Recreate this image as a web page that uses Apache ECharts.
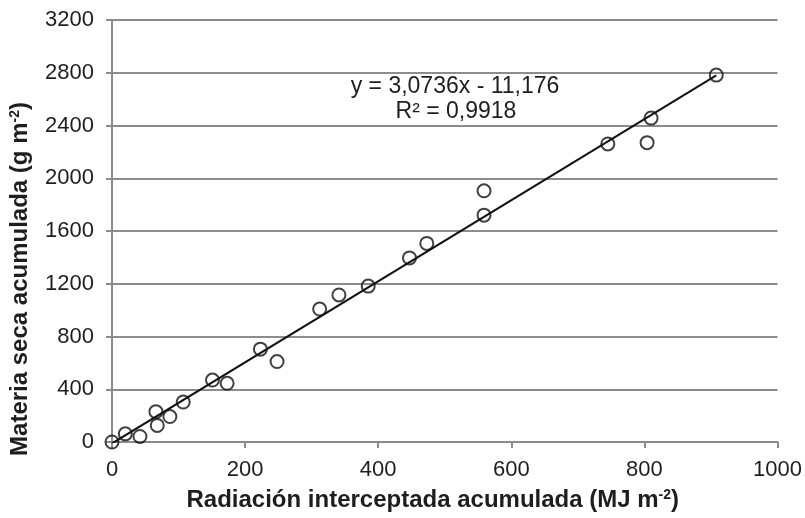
<!DOCTYPE html>
<html>
<head>
<meta charset="utf-8">
<script src="https://cdn.jsdelivr.net/npm/echarts@6/dist/echarts.min.js"></script>
<style>
  html, body { margin: 0; padding: 0; background: #fff; }
  #chart { width: 805px; height: 518px; }
</style>
</head>
<body>
<div id="chart"></div>
<script>
// Accumulated intercepted radiation (MJ m-2) and accumulated dry matter (g m-2)
var radiacion = [0, 20, 42, 66, 68, 87, 107, 151, 173, 223, 248, 312, 341, 385, 447, 473, 559, 559, 745, 804, 810, 908];
var materiaSeca = [0, 62, 42, 230, 126, 193, 303, 470, 445, 704, 610, 1008, 1115, 1182, 1396, 1506, 1720, 1905, 2260, 2270, 2456, 2782];

// Linear fit reported on the chart
var pendiente = 3.0736;
var intercepto = -11.176;
var ecuacion = 'y = 3,0736x - 11,176';
var r2 = 'R² = 0,9918';

var xTicks = [0, 200, 400, 600, 800, 1000];
var yTicks = [0, 400, 800, 1200, 1600, 2000, 2400, 2800, 3200];

var puntos = radiacion.map(function (x, i) { return [x, materiaSeca[i]]; });
var xFin = Math.max.apply(null, radiacion);
var recta = [[0, intercepto], [xFin, pendiente * xFin + intercepto]];

var FONT = '"Liberation Sans", Arial, sans-serif';
var TXT = '#1e1e1e';
var GRIS = '#8c8c8c';

function plain(v) { return String(v); }

var chart = echarts.init(document.getElementById('chart'), null, { renderer: 'canvas' });
chart.setOption({
  animation: false,
  backgroundColor: '#ffffff',
  grid: { left: 112, right: 27, top: 20, bottom: 76, containLabel: false },
  xAxis: {
    type: 'value',
    min: xTicks[0],
    max: xTicks[xTicks.length - 1],
    interval: 200,
    name: '{t|Radiación interceptada acumulada (MJ m}{s|-2}{t|)}',
    nameLocation: 'middle',
    nameGap: 46,
    nameTextStyle: {
      padding: [0, 24, 0, 0],
      rich: {
        t: { fontFamily: FONT, fontWeight: 'bold', fontSize: 24, color: TXT },
        s: { fontFamily: FONT, fontWeight: 'bold', fontSize: 14, color: TXT, verticalAlign: 'top', padding: [0, 0, 8, 0] }
      }
    },
    axisLine: { show: true, onZero: false, lineStyle: { color: GRIS, width: 2 } },
    axisTick: { show: true, length: 6, lineStyle: { color: GRIS, width: 2 } },
    axisLabel: { fontFamily: FONT, fontSize: 22, color: TXT, margin: 17, formatter: plain },
    splitLine: { show: false }
  },
  yAxis: {
    type: 'value',
    min: yTicks[0],
    max: yTicks[yTicks.length - 1],
    interval: 400,
    name: '{t|Materia seca acumulada (g m}{s|-2}{t|)}',
    nameLocation: 'middle',
    nameGap: 80,
    nameRotate: 90,
    nameTextStyle: {
      padding: [0, 96, 0, 0],
      rich: {
        t: { fontFamily: FONT, fontWeight: 'bold', fontSize: 24, color: TXT },
        s: { fontFamily: FONT, fontWeight: 'bold', fontSize: 14, color: TXT, verticalAlign: 'top', padding: [0, 0, 8, 0] }
      }
    },
    axisLine: { show: true, lineStyle: { color: GRIS, width: 2 } },
    axisTick: { show: true, length: 6, lineStyle: { color: GRIS, width: 2 } },
    axisLabel: { fontFamily: FONT, fontSize: 22, color: TXT, margin: 18, formatter: plain },
    splitLine: { show: true, lineStyle: { color: GRIS, width: 2 } }
  },
  graphic: [
    { type: 'text', x: 455, y: 87, style: { text: ecuacion, font: '23px ' + FONT, fill: TXT, textAlign: 'center', textVerticalAlign: 'middle' } },
    { type: 'text', x: 456, y: 112, style: { text: r2, font: '23px ' + FONT, fill: TXT, textAlign: 'center', textVerticalAlign: 'middle' } }
  ],
  series: [
    {
      name: 'Tendencia',
      type: 'line',
      data: recta,
      symbol: 'none',
      lineStyle: { color: '#111', width: 2 },
      z: 2,
      silent: true
    },
    {
      name: 'Datos',
      type: 'scatter',
      data: puntos,
      symbol: 'circle',
      symbolSize: 13,
      itemStyle: { color: 'rgba(0,0,0,0)', borderColor: '#111', borderWidth: 2 },
      z: 3
    }
  ]
});
</script>
</body>
</html>
